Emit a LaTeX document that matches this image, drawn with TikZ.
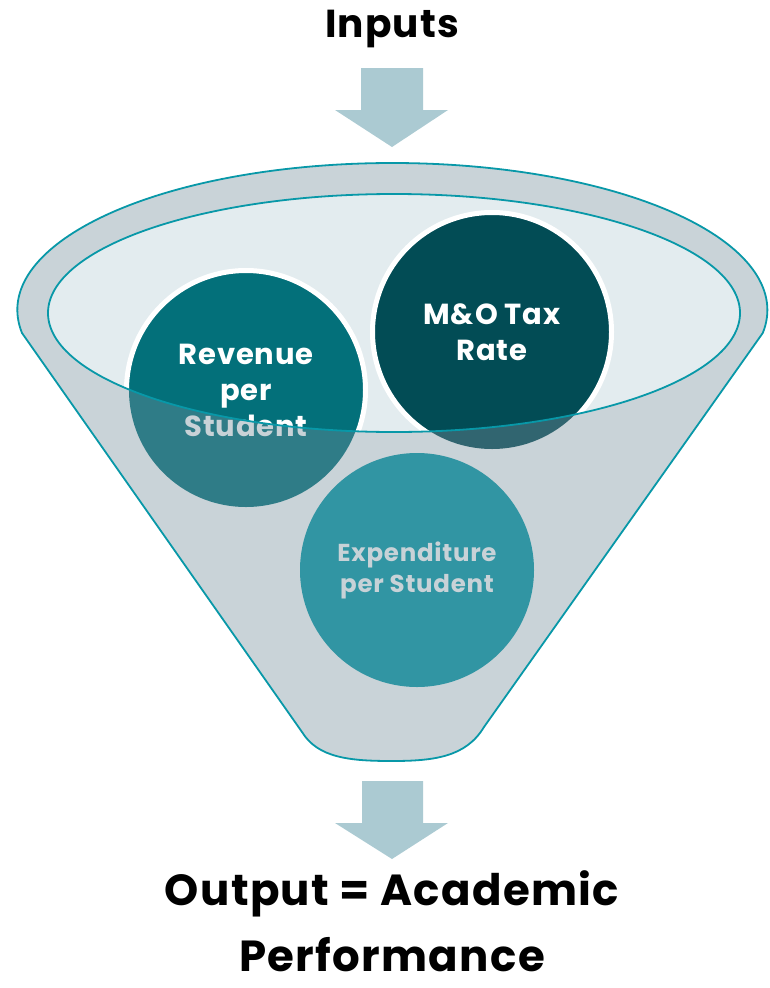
\documentclass[tikz,border=0pt]{standalone}
\usepackage{fontspec}
\setmainfont{Poppins}[LetterSpace=3]
\definecolor{funnelgrey}{RGB}{201,211,216}
\definecolor{funnellight}{RGB}{227,236,239}
\definecolor{rimteal}{RGB}{8,152,168}
\definecolor{arrowblue}{RGB}{171,202,210}
\definecolor{revcol}{RGB}{3,112,122}
\definecolor{revfade}{RGB}{47,124,135}
\definecolor{taxcol}{RGB}{2,76,85}
\definecolor{taxfade}{RGB}{49,101,112}
\definecolor{expcol}{RGB}{49,149,163}
\definecolor{fadetext}{RGB}{200,210,215}
\tikzset{
  bubble/.style={circle, draw=white, line width=5pt, minimum size=239pt, inner sep=0pt,
    align=center, text=white, font=\bfseries},
  flatbubble/.style={circle, minimum size=234pt, inner sep=0pt, align=center, font=\bfseries},
  title/.style={font=\bfseries\fontsize{43.5}{66}\selectfont, align=center, text=black, inner sep=0pt},
  bigarrow/.style={fill=arrowblue, draw=none},
  rim/.style={draw=rimteal, line width=1.8pt}
}
\begin{document}
\begin{tikzpicture}[x=1pt,y=-1pt]
\useasboundingbox (0,0) rectangle (769,988);
% funnel body
\fill[funnelgrey] (22,333) arc[start angle=189, end angle=-9, x radius=375pt, y radius=147pt] -- (484,727) .. controls (466,757) and (434,761) .. (392,761) .. controls (350,761) and (318,758) .. (302,732) -- cycle;
\fill[funnellight] (394,313) ellipse[x radius=346pt, y radius=119pt];
% bubbles
\node[bubble, fill=revcol, font=\bfseries\fontsize{29}{36}\selectfont] (rev) at (246,390) {Revenue\\per\\Student};
\node[bubble, fill=taxcol, font=\bfseries\fontsize{29}{36}\selectfont] (tax) at (492,332) {M\&O Tax\\Rate};
% front of funnel (below rim)
\begin{scope}
  \clip (22,333) arc[start angle=189, end angle=-9, x radius=375pt, y radius=147pt] -- (484,727) .. controls (466,757) and (434,761) .. (392,761) .. controls (350,761) and (318,758) .. (302,732) -- cycle;
  \begin{scope}[even odd rule]
  \clip (-10,-10) rectangle (800,1000) (394,313) ellipse[x radius=346pt, y radius=119pt];
  \fill[funnelgrey] (0,0) rectangle (769,988);
  \node[flatbubble, fill=revfade, text=fadetext, font=\bfseries\fontsize{29}{36}\selectfont] (revf) at (rev.center) {Revenue\\per\\Student};
  \node[flatbubble, fill=taxfade] (taxf) at (tax.center) {};
  \node[flatbubble, fill=expcol, text=fadetext, font=\bfseries\fontsize{24.5}{31}\selectfont] (exp) at (417,570) {Expenditure\\per Student};
  \end{scope}
\end{scope}
% outlines
\draw[rim] (22,333) arc[start angle=189, end angle=-9, x radius=375pt, y radius=147pt] -- (484,727) .. controls (466,757) and (434,761) .. (392,761) .. controls (350,761) and (318,758) .. (302,732) -- cycle;
\draw[rim] (394,313) ellipse[x radius=346pt, y radius=119pt];
% arrows
\fill[bigarrow] (361,68) -- (423,68) -- (423,110) -- (448,110) -- (392,147) -- (335,110) -- (361,110) -- cycle;
\fill[bigarrow] (362,781) -- (423,781) -- (423,823) -- (448,823) -- (392,859) -- (335,823) -- (362,823) -- cycle;
% titles
\node[title, anchor=base, font=\bfseries\fontsize{39}{44}\selectfont] (inputs) at (392,37) {Inputs};
\node[title, anchor=base, text depth=0pt] (output) at (392,971) {Output = Academic\\Performance};
\end{tikzpicture}
\end{document}
